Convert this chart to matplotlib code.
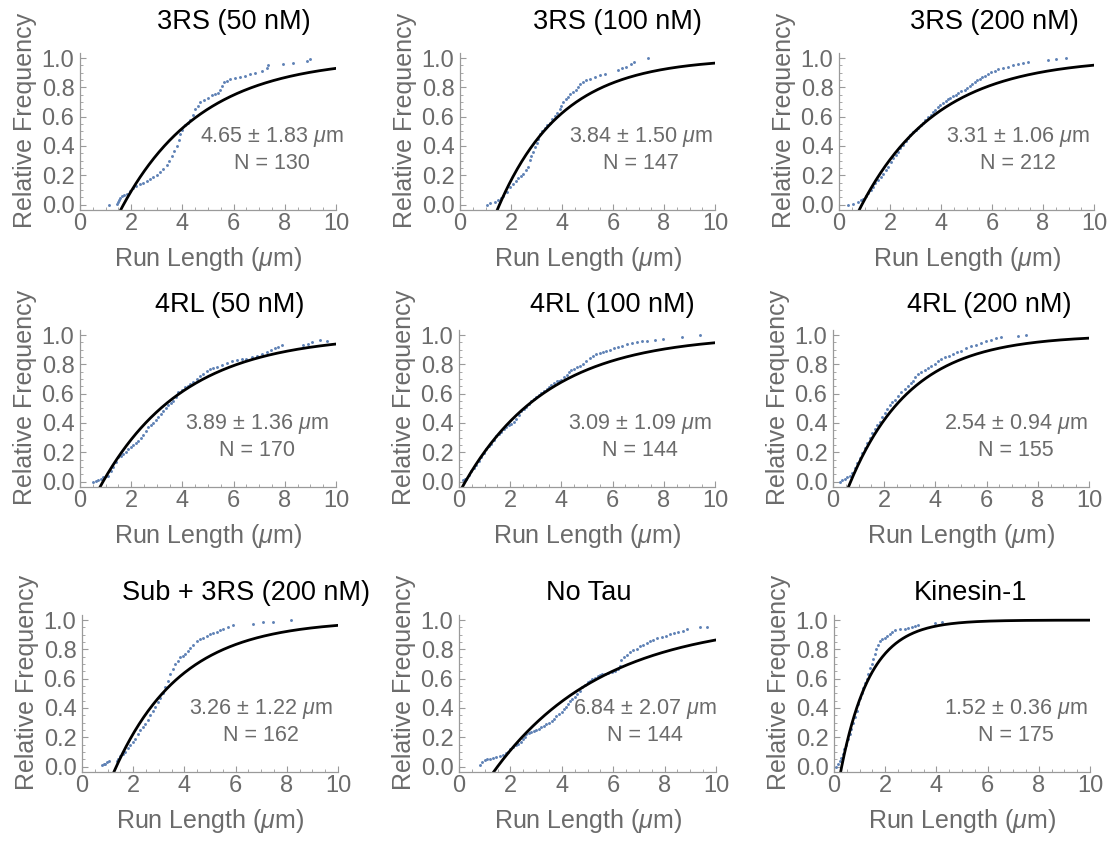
import numpy as np
import matplotlib
matplotlib.use("Agg")
from matplotlib import pyplot as plt
from matplotlib.ticker import MultipleLocator

plt.rcParams['font.family'] = ['Liberation Sans', 'DejaVu Sans']
plt.rcParams['mathtext.fontset'] = 'custom'
plt.rcParams['mathtext.rm'] = 'Liberation Sans'
plt.rcParams['mathtext.it'] = 'Liberation Sans:italic'

# panel info
titles = ["3RS (50 nM)", "3RS (100 nM)", "3RS (200 nM)",
          "4RL (50 nM)", "4RL (100 nM)", "4RL (200 nM)",
          "Sub + 3RS (200 nM)", "No Tau", "Kinesin-1"]
means = [4.65, 3.84, 3.31, 3.89, 3.09, 2.54, 3.26, 6.84, 1.52]
errs = [1.83, 1.50, 1.06, 1.36, 1.09, 0.94, 1.22, 2.07, 0.36]
counts = [130, 147, 212, 170, 144, 155, 162, 144, 175]

# fitted exponential CDF: offset and decay length
fit_x0 = [1.70, 1.55, 0.90, 0.90, 0.25, 0.69, 1.34, 1.50, 0.30]
fit_lam = [3.12, 2.50, 3.00, 3.25, 3.30, 2.40, 2.60, 4.25, 1.15]

x_3rs50 = [1.15, 1.43, 1.47, 1.52, 1.58, 1.63, 1.72, 1.82, 1.95, 2.08, 2.20, 2.34, 2.47, 2.60, 2.73, 2.86,
           3.00, 3.13, 3.25, 3.39, 3.48, 3.58, 3.68, 3.78, 3.85, 3.90, 3.98, 4.10, 4.20, 4.30, 4.40, 4.49,
           4.60, 4.69, 4.85, 5.01, 5.15, 5.27, 5.40, 5.47, 5.55, 5.63, 5.75, 5.86, 6.05, 6.25, 6.45, 6.64,
           6.85, 7.10, 7.30, 7.36, 7.94, 8.33, 8.85, 8.98]
y_3rs50 = [0.000, 0.007, 0.020, 0.030, 0.045, 0.060, 0.068, 0.075, 0.092, 0.110, 0.125, 0.140, 0.150, 0.160,
           0.175, 0.190, 0.205, 0.220, 0.240, 0.270, 0.300, 0.330, 0.365, 0.400, 0.440, 0.480, 0.510, 0.540,
           0.560, 0.580, 0.615, 0.650, 0.675, 0.700, 0.715, 0.730, 0.745, 0.755, 0.765, 0.780, 0.810, 0.835,
           0.845, 0.855, 0.862, 0.870, 0.880, 0.890, 0.900, 0.915, 0.935, 0.950, 0.960, 0.970, 0.977, 0.995]

x_3rs100 = [1.04, 1.17, 1.37, 1.50, 1.60, 1.70, 1.83, 1.96, 2.09, 2.20, 2.28, 2.40, 2.48, 2.60, 2.67, 2.74,
            2.80, 2.87, 2.94, 3.00, 3.06, 3.13, 3.22, 3.32, 3.42, 3.52, 3.62, 3.72, 3.82, 3.91, 3.98, 4.04,
            4.14, 4.24, 4.33, 4.43, 4.53, 4.63, 4.72, 4.82, 4.95, 5.08, 5.28, 5.48, 5.67, 6.19, 6.35, 6.52,
            6.70, 6.84, 7.37]
y_3rs100 = [0.000, 0.010, 0.015, 0.030, 0.045, 0.060, 0.085, 0.120, 0.140, 0.160, 0.180, 0.195, 0.210, 0.235,
            0.260, 0.305, 0.330, 0.360, 0.390, 0.420, 0.450, 0.480, 0.505, 0.525, 0.540, 0.560, 0.585, 0.605,
            0.625, 0.650, 0.675, 0.700, 0.718, 0.735, 0.752, 0.770, 0.785, 0.800, 0.820, 0.840, 0.850, 0.860,
            0.872, 0.885, 0.895, 0.920, 0.930, 0.940, 0.958, 0.975, 1.000]

x_3rs200 = [0.35, 0.55, 0.75, 0.85, 0.94, 1.04, 1.14, 1.24, 1.33, 1.43, 1.53, 1.63, 1.73, 1.83, 1.92, 2.02,
            2.12, 2.22, 2.31, 2.41, 2.51, 2.61, 2.71, 2.80, 2.90, 3.00, 3.10, 3.20, 3.29, 3.39, 3.49, 3.59,
            3.69, 3.78, 3.88, 3.98, 4.08, 4.18, 4.27, 4.37, 4.47, 4.57, 4.67, 4.80, 4.93, 5.02, 5.12, 5.22,
            5.32, 5.42, 5.52, 5.62, 5.71, 5.84, 5.97, 6.10, 6.24, 6.43, 6.63, 6.82, 7.02, 7.20, 7.41, 8.20,
            8.52, 8.92]
y_3rs200 = [0.000, 0.002, 0.020, 0.030, 0.040, 0.060, 0.080, 0.100, 0.120, 0.145, 0.170, 0.190, 0.210, 0.235,
            0.260, 0.290, 0.320, 0.340, 0.360, 0.385, 0.410, 0.433, 0.455, 0.475, 0.495, 0.510, 0.525, 0.543,
            0.560, 0.578, 0.595, 0.613, 0.630, 0.648, 0.665, 0.680, 0.695, 0.708, 0.720, 0.730, 0.740, 0.750,
            0.760, 0.773, 0.785, 0.798, 0.810, 0.825, 0.840, 0.850, 0.860, 0.870, 0.880, 0.893, 0.905, 0.915,
            0.925, 0.932, 0.940, 0.950, 0.960, 0.968, 0.975, 0.990, 0.995, 1.000]

x_4rl50 = [0.52, 0.62, 0.72, 0.82, 0.91, 1.00, 1.10, 1.20, 1.30, 1.40, 1.50, 1.60, 1.69, 1.79, 1.89, 1.99,
           2.08, 2.18, 2.28, 2.38, 2.47, 2.57, 2.67, 2.77, 2.86, 2.96, 3.06, 3.16, 3.26, 3.36, 3.45, 3.55,
           3.65, 3.75, 3.84, 3.97, 4.10, 4.20, 4.30, 4.43, 4.56, 4.69, 4.82, 4.95, 5.08, 5.21, 5.34, 5.53,
           5.73, 5.92, 6.12, 6.31, 6.50, 6.70, 6.90, 7.10, 7.29, 7.45, 7.62, 7.75, 7.88, 8.72, 8.90, 9.05,
           9.38, 9.65]
y_4rl50 = [0.000, 0.005, 0.010, 0.020, 0.030, 0.035, 0.040, 0.070, 0.100, 0.135, 0.165, 0.175, 0.185, 0.205,
           0.220, 0.235, 0.250, 0.262, 0.275, 0.298, 0.320, 0.345, 0.370, 0.385, 0.400, 0.420, 0.440, 0.460,
           0.480, 0.500, 0.520, 0.535, 0.550, 0.580, 0.610, 0.628, 0.645, 0.655, 0.665, 0.683, 0.700, 0.718,
           0.735, 0.752, 0.770, 0.778, 0.785, 0.798, 0.810, 0.820, 0.830, 0.835, 0.840, 0.850, 0.860, 0.873,
           0.885, 0.898, 0.910, 0.920, 0.930, 0.930, 0.942, 0.955, 0.965, 0.960]

x_4rl100 = [0.16, 0.22, 0.29, 0.38, 0.48, 0.58, 0.68, 0.78, 0.87, 0.97, 1.07, 1.17, 1.26, 1.36, 1.46, 1.56,
            1.66, 1.76, 1.85, 1.95, 2.05, 2.15, 2.24, 2.34, 2.44, 2.54, 2.63, 2.73, 2.83, 2.93, 3.02, 3.12,
            3.22, 3.32, 3.42, 3.52, 3.61, 3.71, 3.81, 3.90, 4.00, 4.10, 4.20, 4.30, 4.39, 4.49, 4.59, 4.72,
            4.85, 4.98, 5.11, 5.24, 5.37, 5.50, 5.63, 5.76, 5.89, 6.05, 6.22, 6.38, 6.55, 6.75, 6.94, 7.13,
            7.33, 7.65, 7.98, 8.70, 9.41]
y_4rl100 = [0.010, 0.015, 0.020, 0.045, 0.070, 0.090, 0.110, 0.140, 0.170, 0.195, 0.220, 0.240, 0.260, 0.285,
            0.310, 0.325, 0.340, 0.358, 0.375, 0.383, 0.390, 0.410, 0.430, 0.455, 0.480, 0.495, 0.510, 0.530,
            0.550, 0.563, 0.575, 0.590, 0.605, 0.618, 0.630, 0.645, 0.660, 0.673, 0.685, 0.690, 0.695, 0.713,
            0.730, 0.745, 0.760, 0.770, 0.780, 0.790, 0.800, 0.823, 0.845, 0.857, 0.868, 0.877, 0.885, 0.893,
            0.900, 0.909, 0.918, 0.927, 0.936, 0.944, 0.952, 0.958, 0.963, 0.969, 0.975, 0.986, 1.000]

x_4rl200 = [0.26, 0.36, 0.46, 0.56, 0.65, 0.75, 0.85, 0.95, 1.04, 1.14, 1.24, 1.34, 1.43, 1.53, 1.63, 1.73,
            1.82, 1.92, 2.02, 2.12, 2.21, 2.31, 2.41, 2.54, 2.67, 2.80, 2.93, 3.03, 3.13, 3.22, 3.32, 3.45,
            3.58, 3.71, 3.84, 3.97, 4.10, 4.23, 4.36, 4.52, 4.69, 4.85, 5.01, 5.20, 5.40, 5.60, 5.79, 5.98,
            6.18, 6.38, 6.58, 7.23, 7.55]
y_4rl200 = [0.000, 0.010, 0.020, 0.028, 0.035, 0.060, 0.090, 0.125, 0.160, 0.195, 0.230, 0.265, 0.300, 0.330,
            0.360, 0.385, 0.410, 0.440, 0.470, 0.495, 0.520, 0.540, 0.560, 0.585, 0.610, 0.633, 0.655, 0.673,
            0.690, 0.712, 0.735, 0.748, 0.760, 0.775, 0.790, 0.805, 0.820, 0.835, 0.850, 0.860, 0.870, 0.883,
            0.895, 0.910, 0.925, 0.935, 0.945, 0.957, 0.970, 0.980, 0.990, 0.993, 1.000]

x_sub3rs = [0.78, 0.85, 0.91, 0.98, 1.04, 1.36, 1.42, 1.49, 1.59, 1.69, 1.78, 1.88, 1.98, 2.08, 2.18, 2.27,
            2.37, 2.47, 2.57, 2.66, 2.76, 2.86, 2.96, 3.05, 3.15, 3.25, 3.34, 3.44, 3.54, 3.64, 3.74, 3.83,
            3.93, 4.03, 4.13, 4.22, 4.35, 4.48, 4.61, 4.74, 4.87, 5.00, 5.13, 5.26, 5.38, 5.51, 5.70, 5.90,
            6.69, 7.08, 7.47, 8.18]
y_sub3rs = [0.010, 0.015, 0.020, 0.030, 0.040, 0.040, 0.055, 0.070, 0.085, 0.100, 0.125, 0.150, 0.170, 0.190,
            0.220, 0.250, 0.270, 0.290, 0.320, 0.350, 0.380, 0.410, 0.440, 0.470, 0.505, 0.540, 0.585, 0.630,
            0.665, 0.700, 0.723, 0.745, 0.758, 0.770, 0.790, 0.810, 0.833, 0.855, 0.868, 0.880, 0.893, 0.905,
            0.913, 0.920, 0.930, 0.940, 0.955, 0.970, 0.975, 0.990, 0.990, 1.000]

x_notau = [0.81, 0.90, 1.00, 1.10, 1.19, 1.32, 1.45, 1.58, 1.71, 1.81, 1.91, 2.00, 2.10, 2.20, 2.30, 2.40,
           2.49, 2.56, 2.62, 2.72, 2.82, 2.92, 3.01, 3.11, 3.21, 3.31, 3.40, 3.50, 3.60, 3.70, 3.79, 3.89,
           3.99, 4.09, 4.18, 4.25, 4.31, 4.41, 4.51, 4.61, 4.70, 4.80, 4.90, 5.00, 5.09, 5.19, 5.29, 5.39,
           5.48, 5.58, 5.68, 5.81, 5.94, 6.06, 6.19, 6.26, 6.32, 6.42, 6.52, 6.65, 6.78, 6.91, 7.04, 7.17,
           7.30, 7.43, 7.56, 7.72, 7.88, 8.05, 8.21, 8.37, 8.53, 8.70, 8.86, 9.38, 9.64]
y_notau = [0.010, 0.028, 0.045, 0.050, 0.055, 0.060, 0.065, 0.070, 0.080, 0.090, 0.100, 0.118, 0.135, 0.145,
           0.155, 0.170, 0.185, 0.205, 0.225, 0.230, 0.235, 0.243, 0.250, 0.260, 0.270, 0.280, 0.290, 0.300,
           0.310, 0.325, 0.345, 0.360, 0.375, 0.390, 0.405, 0.425, 0.445, 0.460, 0.478, 0.495, 0.518, 0.540,
           0.558, 0.575, 0.585, 0.595, 0.608, 0.620, 0.625, 0.630, 0.635, 0.640, 0.645, 0.650, 0.668, 0.685,
           0.730, 0.745, 0.765, 0.780, 0.795, 0.805, 0.820, 0.830, 0.843, 0.855, 0.865, 0.875, 0.885, 0.895,
           0.903, 0.910, 0.918, 0.925, 0.940, 0.950, 0.950]

x_kin = [0.09, 0.15, 0.22, 0.28, 0.35, 0.41, 0.48, 0.55, 0.61, 0.68, 0.75, 0.81, 0.88, 0.95, 1.01, 1.08,
         1.14, 1.21, 1.27, 1.34, 1.40, 1.47, 1.53, 1.60, 1.66, 1.73, 1.79, 1.89, 1.99, 2.08, 2.18, 2.28,
         2.38, 2.58, 2.77, 2.90, 3.03, 3.16, 3.29, 3.95, 4.21]
y_kin = [0.000, 0.020, 0.040, 0.060, 0.085, 0.118, 0.150, 0.185, 0.220, 0.260, 0.300, 0.340, 0.380, 0.425,
         0.470, 0.503, 0.535, 0.568, 0.600, 0.635, 0.670, 0.703, 0.735, 0.770, 0.805, 0.833, 0.860, 0.870,
         0.880, 0.893, 0.905, 0.920, 0.935, 0.938, 0.940, 0.948, 0.955, 0.963, 0.970, 0.980, 0.985]

xs = [x_3rs50, x_3rs100, x_3rs200, x_4rl50, x_4rl100, x_4rl200, x_sub3rs, x_notau, x_kin]
ys = [y_3rs50, y_3rs100, y_3rs200, y_4rl50, y_4rl100, y_4rl200, y_sub3rs, y_notau, y_kin]

# layout in pixels (figure is 1115 x 841)
W, H = 1115, 841
ax_left = [80, 460, 839, 80, 459, 833, 82, 459, 834]
ax_width = [256, 255, 255, 256, 256, 256, 256, 257, 256]
row_bottom = [210, 487, 772]
ax_height = 157
title_px = [234, 617, 994, 230, 612, 989, 246, 589, 970]
title_py = [22, 305, 593]
text_x = [7.5, 7.1, 7.0, 6.9, 7.05, 7.15, 7.0, 7.25, 7.1]
text_y = [0.46, 0.46, 0.46, 0.39, 0.39, 0.39, 0.39, 0.39, 0.39]

gray_axis = '#9a9a9a'
gray_text = '#6b6b6b'
dot_color = '#5e81b5'

fig = plt.figure(figsize=(W / 100, H / 100), dpi=100)

for i in range(9):
    row = i // 3
    left = ax_left[i] / W
    bottom = 1 - row_bottom[row] / H
    ax = fig.add_axes([left, bottom, ax_width[i] / W, ax_height / H])

    ax.plot(xs[i], ys[i], 'o', ms=2.1, mew=0, color=dot_color)

    xx = np.linspace(fit_x0[i] - 0.2, 10, 300)
    ax.plot(xx, 1 - np.exp(-(xx - fit_x0[i]) / fit_lam[i]), color='black', lw=2.0)

    ax.set_xlim(0, 10)
    ax.set_ylim(-0.037, 1.035)
    for s in ['top', 'right']:
        ax.spines[s].set_visible(False)
    for s in ['left', 'bottom']:
        ax.spines[s].set_color(gray_axis)
        ax.spines[s].set_linewidth(0.9)
    ax.set_xticks(np.arange(0, 11, 2))
    ax.set_yticks(np.arange(0, 1.01, 0.2))
    ax.set_yticklabels(['0.0', '0.2', '0.4', '0.6', '0.8', '1.0'])
    ax.xaxis.set_minor_locator(MultipleLocator(0.5))
    ax.yaxis.set_minor_locator(MultipleLocator(0.05))
    ax.tick_params(which='major', direction='in', length=4, width=0.8, color=gray_axis,
                   labelcolor=gray_text, labelsize=17)
    ax.tick_params(which='minor', direction='in', length=2, width=0.6, color=gray_axis)
    ax.tick_params(axis='x', pad=2)
    ax.tick_params(axis='y', pad=4)

    ax.text(-0.215, 0.57, 'Relative Frequency', rotation=90, ha='center', va='center',
            transform=ax.transAxes, fontsize=18, color=gray_text)
    ax.text(0.5, -0.31, r'Run Length ($\mu$m)', ha='center', va='center',
            transform=ax.transAxes, fontsize=18, color=gray_text)

    ax.text(text_x[i], text_y[i], '%.2f \u00b1 %.2f $\\mu$m' % (means[i], errs[i]),
            ha='center', va='center', fontsize=15.5, color=gray_text)
    ax.text(text_x[i], text_y[i] - 0.18, 'N = %d' % counts[i],
            ha='center', va='center', fontsize=15.5, color=gray_text)

    fig.text(title_px[i] / W, 1 - title_py[row] / H, titles[i], ha='center', va='center',
             fontsize=19.5, color='black')

fig.savefig('out.png', dpi=100)
